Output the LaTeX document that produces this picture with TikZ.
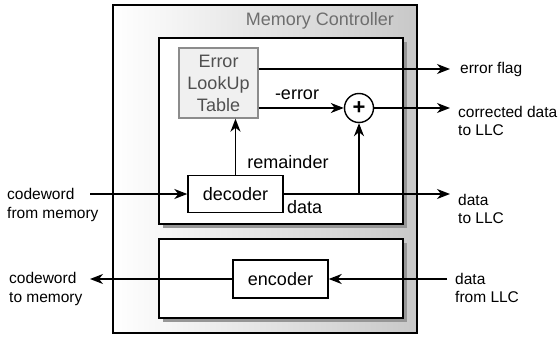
\documentclass[tikz,border=0pt]{standalone}
\usepackage{fontspec}
\setmainfont{Liberation Sans}
\usetikzlibrary{arrows.meta,positioning,calc,shadows}
\definecolor{MC-GRAY}{RGB}{200, 200, 200}
\definecolor{MC-TITLE}{RGB}{110, 110, 110}
\definecolor{LUT-FILL}{RGB}{240, 240, 240}
\definecolor{LUT-LINE}{RGB}{140, 140, 140}
\definecolor{LUT-TEXT}{RGB}{80, 80, 80}
\definecolor{SHADOW-GRAY}{RGB}{150, 150, 150}

\tikzset{
  big/.style={font=\fontsize{18}{22}\selectfont},
  small/.style={font=\fontsize{15.5}{18.5}\selectfont},
  blockbox/.style={draw, fill=white, line width=1.4pt, inner sep=0pt,
    drop shadow={shadow xshift=4pt, shadow yshift=-4pt, fill=SHADOW-GRAY, opacity=1}},
  unit/.style={draw, fill=white, line width=1.4pt, big, inner sep=0pt},
  sig/.style={line width=1.4pt, -{Stealth[length=13pt,width=10pt,inset=4pt]}},
  io/.style={small, anchor=west, align=left, inner sep=0pt}
}

\begin{document}
\begin{tikzpicture}[x=1pt,y=-1pt]
  \useasboundingbox (0,0) rectangle (559,339);

  % Memory controller (outer box)
  \node[draw, line width=1.4pt, left color=white, right color=MC-GRAY,
    minimum width=304pt, minimum height=328pt, inner sep=0pt] (ctrl) at (265,169) {};
  \node[big, MC-TITLE] (title) at (320,21) {Memory Controller};

  % Decode path
  \node[blockbox, minimum width=244pt, minimum height=186pt] (decblk) at (281,131) {};
  \node[unit, minimum width=95pt, minimum height=37pt] (decoder) at (235.5,194) {decoder};
  \node[draw=LUT-LINE, fill=LUT-FILL, text=LUT-TEXT, line width=1.4pt, big, align=center,
    minimum width=79pt, minimum height=70pt, inner sep=0pt] (lut) at (218.5,83) {Error\\LookUp\\Table};
  \node[draw, circle, fill=white, line width=1.4pt, minimum size=29pt, inner sep=0pt,
    font=\fontsize{22}{22}\selectfont\bfseries] (adder) at (359,108) {+};

  % Encode path
  \node[blockbox, minimum width=244pt, minimum height=79pt] (encblk) at (281,278.5) {};
  \node[unit, minimum width=95pt, minimum height=38pt] (encoder) at (280.5,279) {encoder};

  % Free ends
  \coordinate (memin) at (90,194);
  \coordinate (memout) at (90,279);
  \coordinate (flagout) at (450,69);
  \coordinate (corrout) at (450,108);
  \coordinate (dataout) at (450,194);
  \coordinate (llcin) at (447,279);

  % Connectors
  \draw[sig] (memin) -- (decoder);
  \draw[sig] (decoder.north) -- (decoder.north |- lut.south);
  \draw[sig] (lut.east |- flagout) -- (flagout);
  \draw[sig] (lut.east |- adder) -- (adder);
  \draw[sig] (adder) -- (corrout);
  \draw[sig] (decoder) -- (dataout);
  \draw[sig] (adder.south |- decoder) -- (adder);
  \draw[sig] (llcin) -- (encoder);
  \draw[sig] (encoder) -- (memout);

  % Labels
  \node[big] (errlbl) at (297,95) {-error};
  \node[big] (remlbl) at (288,162) {remainder};
  \node[big, anchor=west, inner sep=0pt] (datalbl) at (287,207) {data};
  \node[io] (flaglbl) at (460,69) {error flag};
  \node[io] (corrlbl) at (458,121) {corrected data\\to LLC};
  \node[io] (doutlbl) at (458,209) {data\\to LLC};
  \node[io] (dinlbl) at (455,288) {data\\from LLC};
  \node[io] (meminlbl) at (7,205) {codeword\\from memory};
  \node[io] (memoutlbl) at (9,289) {codeword\\to memory};
\end{tikzpicture}
\end{document}
